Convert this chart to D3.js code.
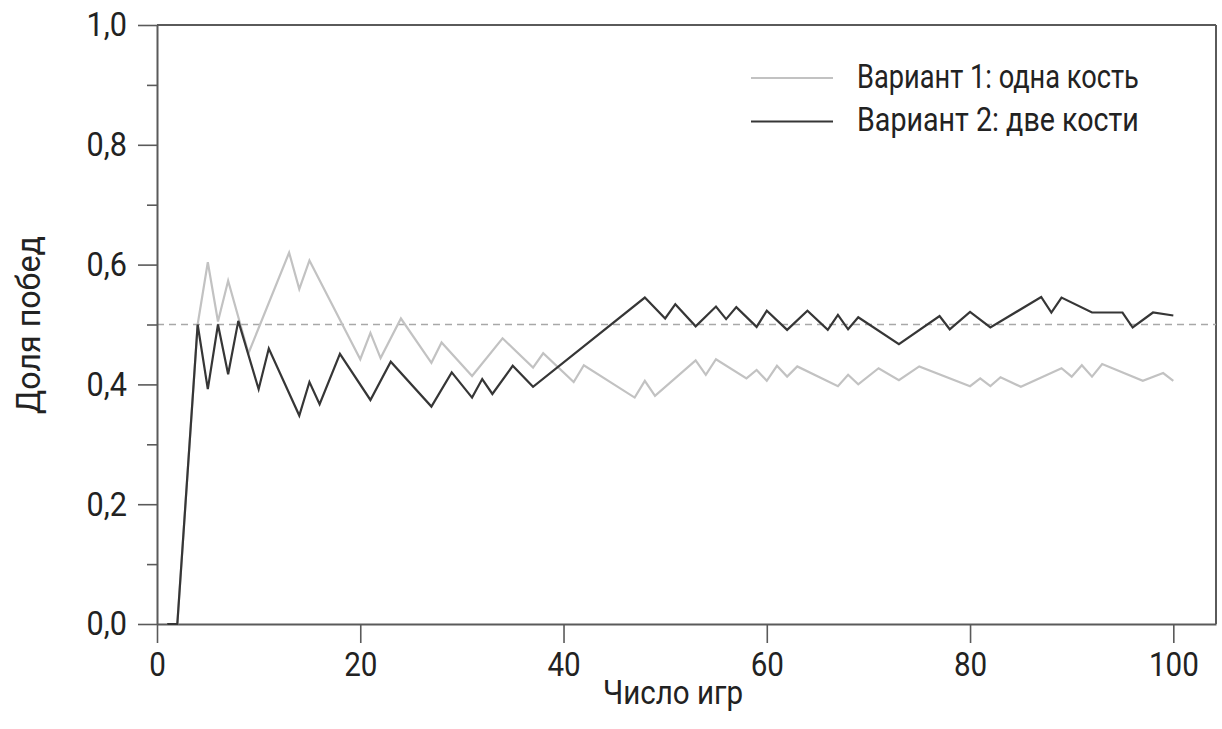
<!DOCTYPE html>
<html>
<head>
<meta charset="utf-8">
<script src="https://cdn.jsdelivr.net/npm/d3@7"></script>
<style>
  html, body { margin: 0; padding: 0; background: #fff; }
  svg { display: block; }
  text { font-family: Roboto, 'Liberation Sans', sans-serif; fill: #222; }
</style>
</head>
<body>
<svg id="chart" width="1222" height="729"></svg>
<script>
// Running share of wins after each game, turning points of each run
const gamesOneDie = [1, 2, 4, 5, 6, 7, 9, 13, 14, 15, 20, 21, 22, 24, 27, 28, 31, 34, 37, 38,
  41, 42, 47, 48, 49, 53, 54, 55, 58, 59, 60, 61, 62, 63, 67, 68, 69, 71, 73, 75,
  80, 81, 82, 83, 85, 89, 90, 91, 92, 93, 97, 99, 100];
const shareOneDie = [0, 0, 0.5, 0.604, 0.505, 0.573, 0.452, 0.62, 0.559, 0.607, 0.442, 0.486, 0.444, 0.51, 0.436, 0.47, 0.414, 0.477, 0.428, 0.452,
  0.404, 0.432, 0.378, 0.406, 0.381, 0.44, 0.416, 0.442, 0.41, 0.424, 0.406, 0.431, 0.413, 0.43, 0.397, 0.416, 0.4, 0.427, 0.407, 0.43,
  0.397, 0.41, 0.397, 0.412, 0.396, 0.427, 0.413, 0.432, 0.413, 0.434, 0.406, 0.419, 0.406];

const gamesTwoDice = [1, 2, 4, 5, 6, 7, 8, 10, 11, 14, 15, 16, 18, 21, 23, 27, 29, 31, 32, 33,
  35, 37, 48, 50, 51, 53, 55, 56, 57, 59, 60, 62, 64, 66, 67, 68, 69, 73, 77, 78,
  80, 82, 87, 88, 89, 92, 95, 96, 98, 100];
const shareTwoDice = [0, 0, 0.5, 0.392, 0.5, 0.417, 0.506, 0.392, 0.46, 0.348, 0.404, 0.367, 0.451, 0.374, 0.438, 0.363, 0.42, 0.378, 0.409, 0.384,
  0.431, 0.396, 0.545, 0.51, 0.534, 0.497, 0.53, 0.509, 0.529, 0.496, 0.523, 0.491, 0.523, 0.491, 0.516, 0.492, 0.512, 0.467, 0.514, 0.492,
  0.521, 0.495, 0.546, 0.52, 0.545, 0.52, 0.52, 0.495, 0.52, 0.515];

const xTicks = [0, 20, 40, 60, 80, 100];
const yMajorTicks = [0, 0.2, 0.4, 0.6, 0.8, 1.0];
const yMinorTicks = [0.1, 0.3, 0.5, 0.7, 0.9];
const fairShare = 0.5;

const seriesNames = ['Вариант 1: одна кость', 'Вариант 2: две кости'];
const xTitle = 'Число игр';
const yTitle = 'Доля побед';

const lightColor = '#c2c2c2';
const darkColor = '#363636';
const axisColor = '#5a5a5a';
const fontSize = 34;

const svg = d3.select('#chart');
const plot = { left: 157, right: 1216, top: 25, bottom: 624 };

const x = d3.scaleLinear().domain([0, 104.2]).range([plot.left, plot.right]);
const y = d3.scaleLinear().domain([0, 1]).range([plot.bottom, plot.top]);

const ru = d3.formatLocale({ decimal: ',', thousands: '\u00a0', grouping: [3], currency: ['', ' ₽'] });
const fmtY = ru.format('.1f');

// narrow lettering for tick labels: squeeze each label horizontally
function squeeze(sel, k) {
  sel.each(function () {
    const w = this.getComputedTextLength();
    d3.select(this).attr('textLength', w * k).attr('lengthAdjust', 'spacingAndGlyphs');
  });
}

// place a free-standing label and scale it to a given width (rotation optional)
function narrowLabel(str, px, py, width, anchor, angle) {
  const t = svg.append('text').attr('x', 0).attr('y', 0)
    .attr('font-size', fontSize).attr('text-anchor', anchor).text(str);
  const k = width / t.node().getComputedTextLength();
  t.attr('transform', `translate(${px},${py}) rotate(${angle || 0}) scale(${k},1)`);
  return t;
}

// frame: top and right edges
svg.append('line').attr('x1', plot.left).attr('x2', plot.right).attr('y1', plot.top).attr('y2', plot.top)
  .attr('stroke', axisColor).attr('stroke-width', 2);
svg.append('line').attr('x1', plot.right).attr('x2', plot.right).attr('y1', plot.top).attr('y2', plot.bottom)
  .attr('stroke', axisColor).attr('stroke-width', 2);

// reference line at one half
svg.append('line')
  .attr('x1', x(0)).attr('x2', plot.right)
  .attr('y1', y(fairShare)).attr('y2', y(fairShare))
  .attr('stroke', '#a8a8a8').attr('stroke-width', 1.6).attr('stroke-dasharray', '7,5');

// y axis: major ticks with labels, minor ticks
const yAxis = d3.axisLeft(y).tickValues(yMajorTicks).tickSize(19).tickSizeOuter(0).tickPadding(11).tickFormat(fmtY);
const gy = svg.append('g').attr('transform', `translate(${plot.left},0)`).call(yAxis);
gy.select('.domain').attr('stroke', axisColor).attr('stroke-width', 2);
gy.selectAll('.tick line').attr('stroke', axisColor).attr('stroke-width', 1.6);
gy.selectAll('.tick text').attr('font-size', fontSize).attr('fill', '#222')
  .attr('font-family', 'Roboto, sans-serif').call(squeeze, 0.9);

const yMinor = d3.axisLeft(y).tickValues(yMinorTicks).tickSize(10).tickFormat('');
const gym = svg.append('g').attr('transform', `translate(${plot.left},0)`).call(yMinor);
gym.select('.domain').remove();
gym.selectAll('.tick line').attr('stroke', axisColor).attr('stroke-width', 1.6);

// x axis
const xAxis = d3.axisBottom(x).tickValues(xTicks).tickSize(19).tickSizeOuter(0).tickPadding(9).tickFormat(d3.format('d'));
const gx = svg.append('g').attr('transform', `translate(0,${plot.bottom})`).call(xAxis);
gx.select('.domain').attr('stroke', axisColor).attr('stroke-width', 2);
gx.selectAll('.tick line').attr('stroke', axisColor).attr('stroke-width', 1.6);
gx.selectAll('.tick text').attr('font-size', fontSize).attr('fill', '#222')
  .attr('font-family', 'Roboto, sans-serif').call(squeeze, 0.87);

// series lines
const line = d3.line().x(d => x(d[0])).y(d => y(d[1]));
const oneDie = d3.zip(gamesOneDie, shareOneDie);
const twoDice = d3.zip(gamesTwoDice, shareTwoDice);

svg.append('path').datum(oneDie).attr('d', line)
  .attr('fill', 'none').attr('stroke', lightColor).attr('stroke-width', 2.2);
svg.append('path').datum(twoDice).attr('d', line)
  .attr('fill', 'none').attr('stroke', darkColor).attr('stroke-width', 2.2);

// legend
[[lightColor, 78], [darkColor, 121.5]].forEach(([c, ly], i) => {
  svg.append('line').attr('x1', 751).attr('x2', 833).attr('y1', ly).attr('y2', ly)
    .attr('stroke', c).attr('stroke-width', 2);
  narrowLabel(seriesNames[i], 857, ly + 9.5, 282, 'start');
});

// axis titles
narrowLabel(xTitle, 673, 704, 140, 'middle');
narrowLabel(yTitle, 40, 325, 178, 'middle', -90);
</script>
</body>
</html>
